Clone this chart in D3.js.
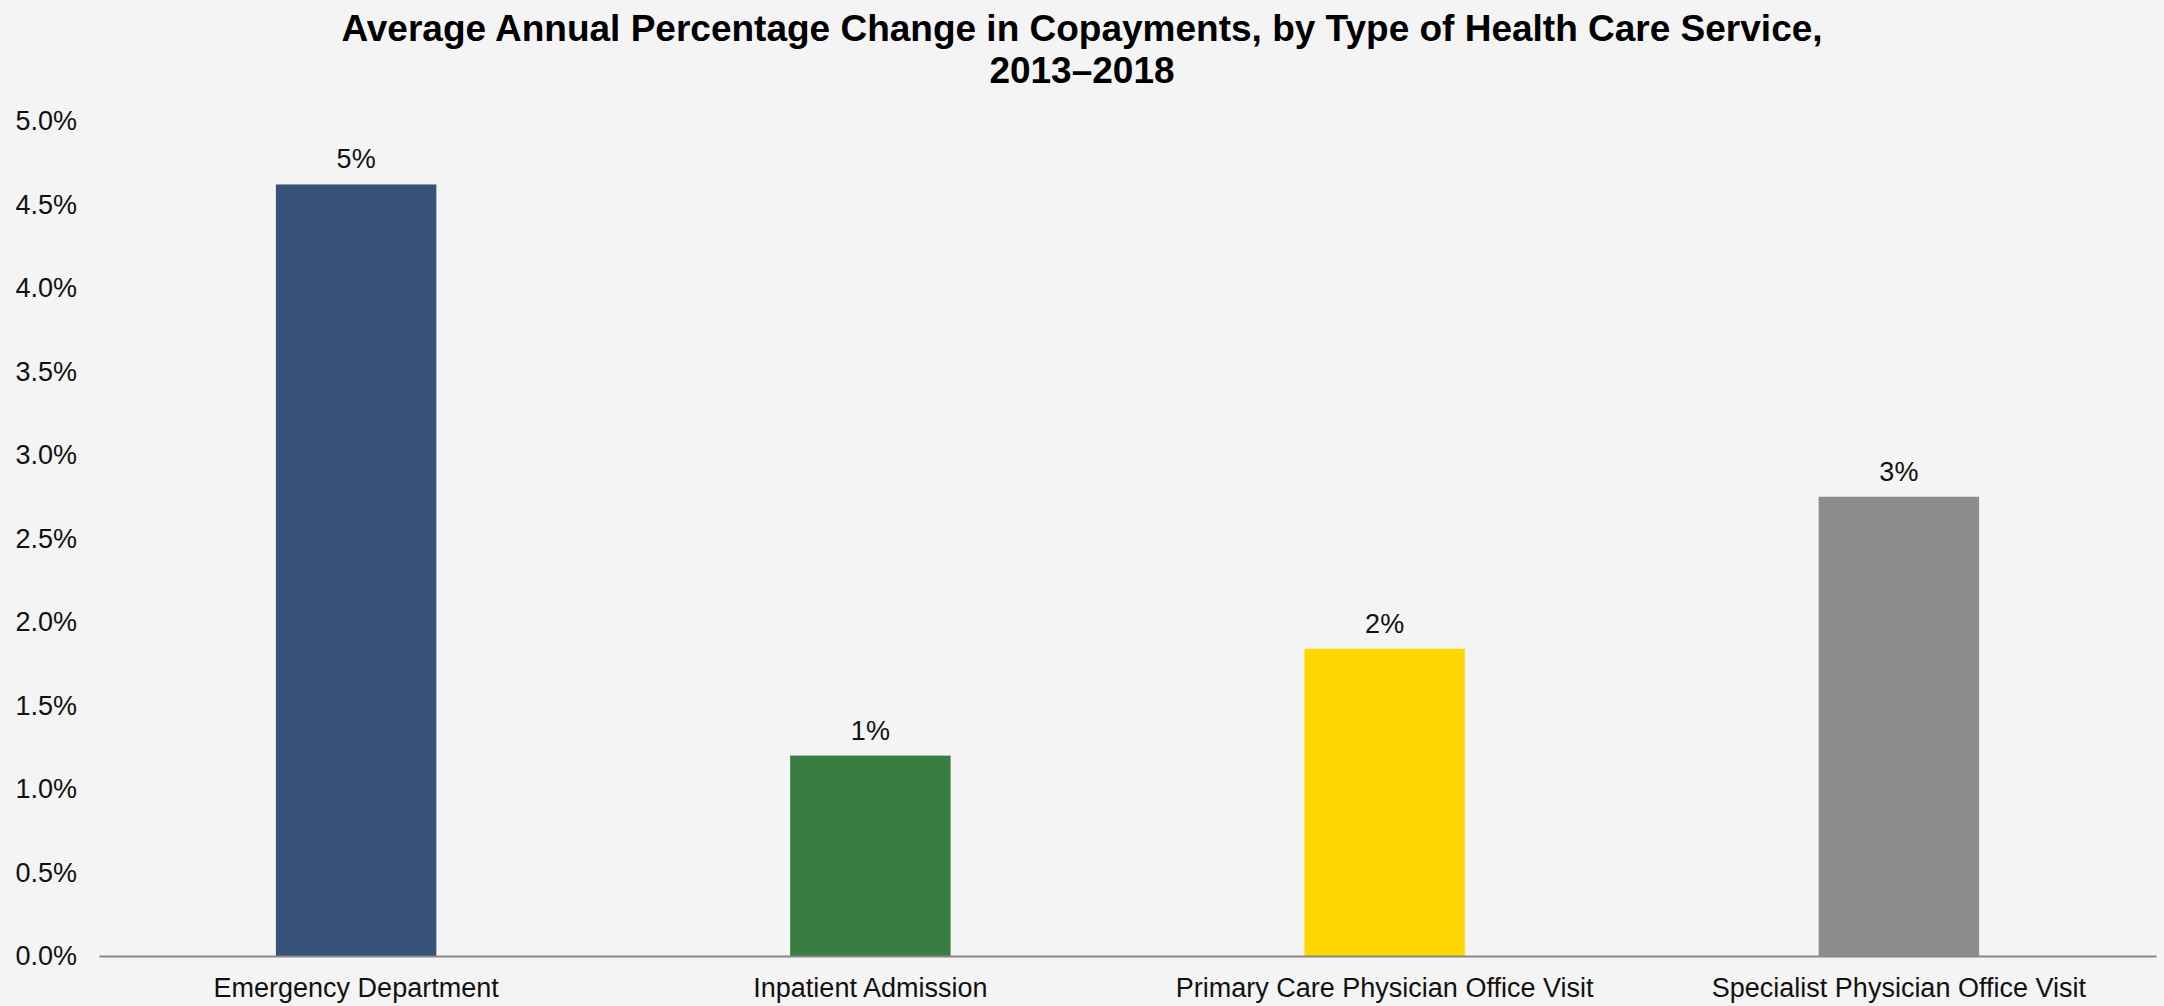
<!DOCTYPE html>
<html>
<head>
<meta charset="utf-8">
<script src="https://cdn.jsdelivr.net/npm/d3@7"></script>
<style>
  html, body { margin: 0; padding: 0; background: #f4f4f4; }
  svg { display: block; font-family: "Liberation Sans", Arial, sans-serif; }
</style>
</head>
<body>
<div id="chart"></div>
<script>
// data
var categories = ['Emergency Department', 'Inpatient Admission', 'Primary Care Physician Office Visit', 'Specialist Physician Office Visit'];
var values = [4.62, 1.20, 1.84, 2.75];
var barLabels = ['5%', '1%', '2%', '3%'];
var colors = ['#375279', '#3a7d40', '#fed700', '#8c8c8c'];
var yTicks = [0, 0.5, 1, 1.5, 2, 2.5, 3, 3.5, 4, 4.5, 5];
var titleLines = ['Average Annual Percentage Change in Copayments, by Type of Health Care Service,', '2013\u20132018'];

var width = 2164, height = 1006;
var margin = {top: 121, right: 8, bottom: 50, left: 99};

var svg = d3.select('#chart')
  .append('svg')
  .attr('width', width)
  .attr('height', height);

svg.append('rect')
  .attr('width', width)
  .attr('height', height)
  .attr('fill', '#f4f4f4');

var x = d3.scaleBand()
  .domain(categories)
  .range([margin.left, width - margin.right])
  .padding(0);

var y = d3.scaleLinear()
  .domain([0, 5])
  .range([height - margin.bottom, margin.top]);

var barW = x.bandwidth() * 0.312;

// title
svg.append('text')
  .attr('x', width / 2)
  .attr('y', 41)
  .attr('text-anchor', 'middle')
  .attr('font-size', 37)
  .attr('font-weight', 'bold')
  .attr('fill', '#000')
  .selectAll('tspan')
  .data(titleLines)
  .enter()
  .append('tspan')
  .attr('x', width / 2)
  .attr('dy', function(d, i) { return i === 0 ? 0 : 42; })
  .text(function(d) { return d; });

// y axis labels (no line)
var yAxis = d3.axisLeft(y)
  .tickValues(yTicks)
  .tickSize(0)
  .tickPadding(22)
  .tickFormat(function(d) { return d.toFixed(1) + '%'; });

var gy = svg.append('g')
  .attr('transform', 'translate(' + margin.left + ',0)')
  .call(yAxis);
gy.select('.domain').remove();
gy.selectAll('text')
  .attr('font-size', 27)
  .attr('font-family', '"Liberation Sans", Arial, sans-serif')
  .attr('fill', '#111');

// bars
svg.selectAll('.bar')
  .data(values)
  .enter()
  .append('rect')
  .attr('class', 'bar')
  .attr('x', function(d, i) { return x(categories[i]) + x.bandwidth() / 2 - barW / 2; })
  .attr('y', function(d) { return y(d); })
  .attr('width', barW)
  .attr('height', function(d) { return y(0) - y(d); })
  .attr('fill', function(d, i) { return colors[i]; });

// value labels
svg.selectAll('.val')
  .data(values)
  .enter()
  .append('text')
  .attr('class', 'val')
  .attr('x', function(d, i) { return x(categories[i]) + x.bandwidth() / 2; })
  .attr('y', function(d) { return y(d) - 16; })
  .attr('text-anchor', 'middle')
  .attr('font-size', 27)
  .attr('fill', '#111')
  .text(function(d, i) { return barLabels[i]; });

// x axis
var xAxis = d3.axisBottom(x).tickSize(0).tickPadding(22);
var gx = svg.append('g')
  .attr('transform', 'translate(0,' + y(0) + ')')
  .call(xAxis);
gx.select('.domain')
  .attr('stroke', '#888')
  .attr('stroke-width', 2);
gx.selectAll('text')
  .attr('font-size', 27)
  .attr('font-family', '"Liberation Sans", Arial, sans-serif')
  .attr('fill', '#111');
</script>
</body>
</html>
